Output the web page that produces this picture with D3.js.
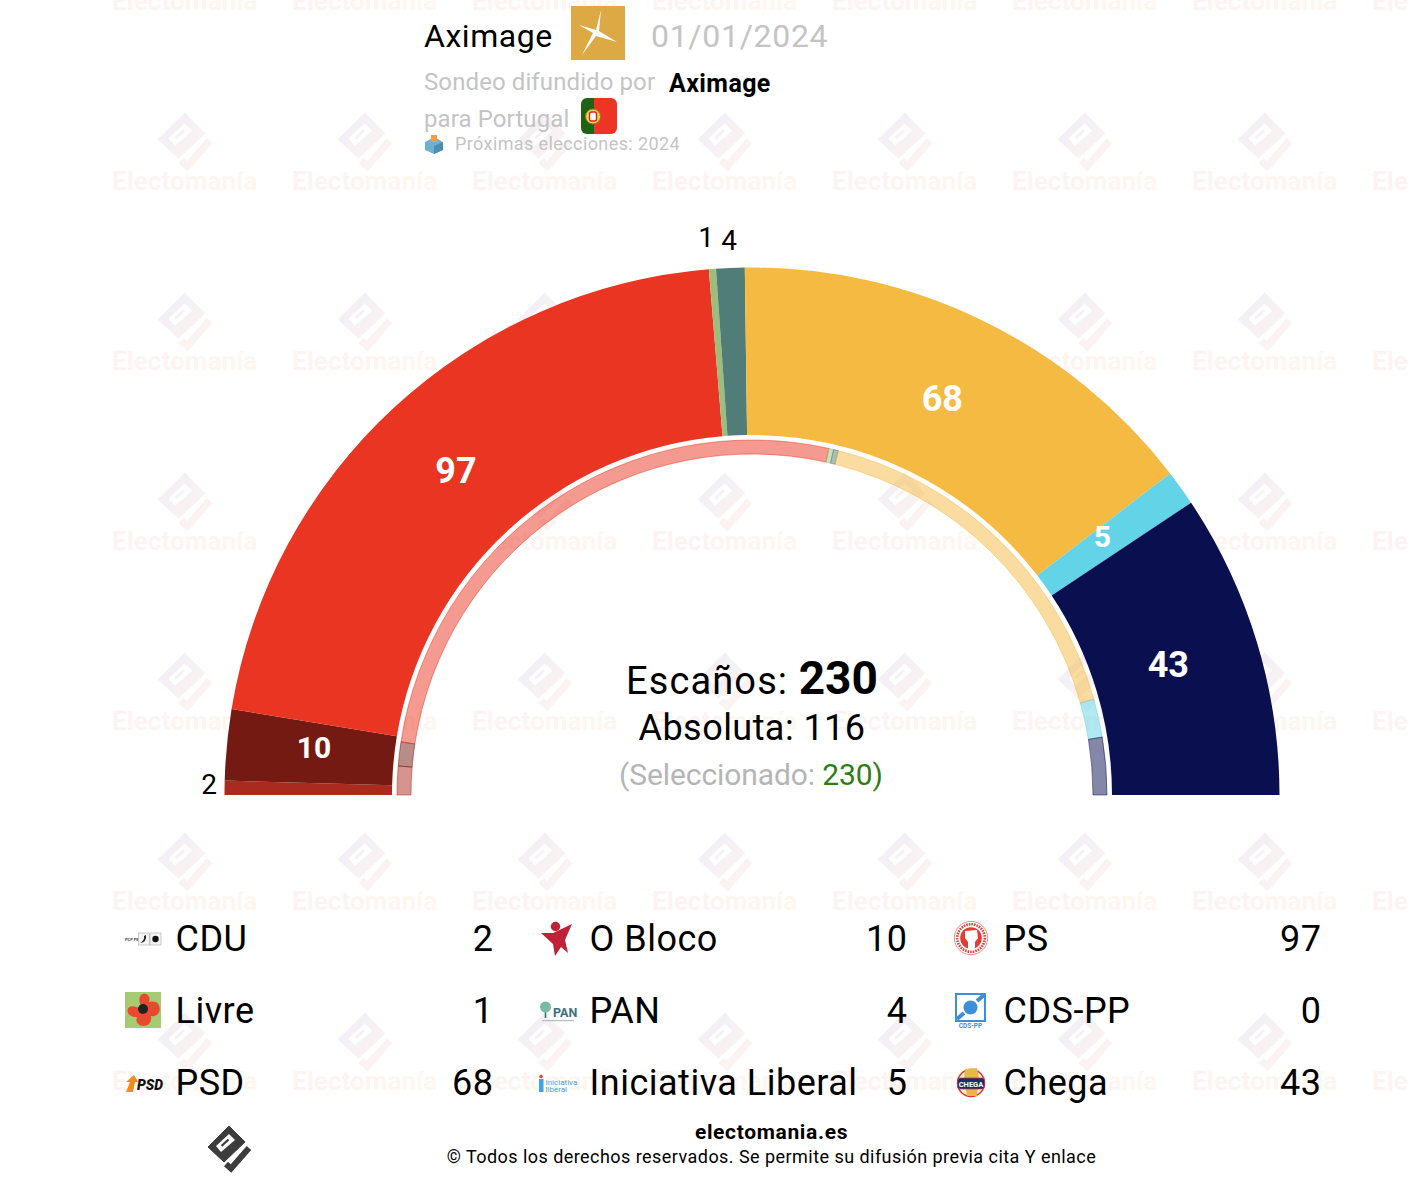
<!DOCTYPE html>
<html><head><meta charset="utf-8">
<script src="https://cdn.jsdelivr.net/npm/d3@7"></script>
<style>
html,body{margin:0;padding:0;background:#fff}
svg{display:block}
text{font-family:Roboto,sans-serif}
</style></head><body>
<svg id="chart" width="1428" height="1188"></svg>
<script>
const parties = ["CDU","O Bloco","PS","Livre","PAN","CDS-PP","PSD","Iniciativa Liberal","Chega"];
const seats = [2,10,97,1,4,0,68,5,43];
const previousSeats = [6,5,120,1,1,0,77,8,12];
const colors = ["#ab2a1e","#751a12","#ea3522","#9dbd7a","#507d78","#3f8fd8","#f5ba41","#63d4e8","#0a104f"];
const legendOrder = ["CDU","O Bloco","PS","Livre","PAN","CDS-PP","PSD","Iniciativa Liberal","Chega"];
const outsideLabels = ["CDU","Livre","PAN"];

const svg = d3.select("#chart");
const cx = 752, cy = 795;
const defs = svg.append("defs");
const g1 = defs.append("linearGradient").attr("id","wmIcon").attr("gradientUnits","userSpaceOnUse").attr("x1",-20).attr("y1",-20).attr("x2",20).attr("y2",20);
g1.append("stop").attr("offset","0").attr("stop-color","#f1eef8");
g1.append("stop").attr("offset","1").attr("stop-color","#fef5ef");
const g2 = defs.append("linearGradient").attr("id","wmText").attr("x1","0").attr("y1","0").attr("x2","1").attr("y2","0");
g2.append("stop").attr("offset","0").attr("stop-color","#fdf3f3");
g2.append("stop").attr("offset","1").attr("stop-color","#fef7ef");
defs.append("clipPath").attr("id","wmClip").append("rect").attr("width",1408).attr("height",1188);

function brand(sel, bg, fill){
  sel.append("path").attr("d","M-1,-23 L15,-7 L-6,13 L-22,-2Z").attr("fill",fill).attr("stroke",fill).attr("stroke-width",1).attr("stroke-linejoin","round");
  sel.append("path").attr("d","M-1,-15 L5,-9 L-9,3 L-14,-3Z").attr("fill",bg);
  sel.append("path").attr("d","M-1.5,-9.5 L-8.5,-3").attr("stroke",fill).attr("stroke-width",2.2).attr("fill","none");
  sel.append("path").attr("d","M-4,15 L1,19.5 L19,-1").attr("stroke",fill).attr("stroke-width",6).attr("fill","none");
}

// watermark
const wm = svg.append("g").attr("clip-path","url(#wmClip)");
d3.range(0,8).forEach(c=>d3.range(0,7).forEach(r=>{
  wm.append("text").attr("x",112+180*c).attr("y",10+180*r).attr("font-size",26.2).attr("font-weight",700)
    .attr("fill","url(#wmText)").text("Electomanía");
  if(r<6){ const t = wm.append("g").attr("transform",`translate(${186+180*c},${142+180*r}) scale(1.24)`); brand(t,"#fff","url(#wmIcon)"); }
}));

// gauge
const total = d3.sum(seats);
const angle = d3.scaleLinear().domain([0,total]).range([-Math.PI/2,Math.PI/2]);
function stack(vals){ let s=0; return vals.map((v,i)=>{const o={i,v,a0:s,a1:s+v}; s+=v; return o;}); }
const arcOuter = d3.arc().innerRadius(360).outerRadius(527.5).startAngle(d=>angle(d.a0)).endAngle(d=>angle(d.a1));
const arcInner = d3.arc().innerRadius(341).outerRadius(355).startAngle(d=>angle(d.a0)).endAngle(d=>angle(d.a1));
const gauge = svg.append("g").attr("transform",`translate(${cx},${cy})`);
const main = stack(seats);
gauge.selectAll("path.o").data(main.filter(d=>d.v>0)).join("path").attr("class","o")
  .attr("d",arcOuter).attr("fill",d=>colors[d.i]);
gauge.selectAll("path.r").data(stack(previousSeats).filter(d=>d.v>0)).join("path").attr("class","r")
  .attr("d",arcInner).attr("fill",d=>colors[d.i]).attr("fill-opacity",.5).attr("stroke",d=>colors[d.i]).attr("stroke-opacity",.5).attr("stroke-width",1);
gauge.selectAll("text.v").data(main.filter(d=>d.v>0)).join("text").attr("class","v")
  .each(function(d){
    const a = angle((d.a0+d.a1)/2), name = parties[d.i], out = outsideLabels.includes(name);
    const R = out ? 543 : 437;
    let x = R*Math.sin(a), y = -R*Math.cos(a) - 3;
    if(name==="PAN"){ x=-23; y=-555; }
    if(name==="Livre"){ x=-46; y=-558; }
    if(name==="Iniciativa Liberal"){ x-=5; y-=1; }
    if(name==="O Bloco"){ x-=3; y-=3; }
    if(name==="Chega"){ x-=2; y-=1; }
    d3.select(this).attr("x",x).attr("y",y).attr("text-anchor","middle").attr("dominant-baseline","central")
      .attr("font-size", out?28:(d.v<=10?30:36)).attr("font-weight",out?400:700)
      .attr("fill",out?"#000":"#fff").text(d.v);
  });

// centre
const t1 = svg.append("text").attr("x",752).attr("y",694).attr("text-anchor","middle").attr("font-size",38).attr("fill","#000");
t1.append("tspan").attr("letter-spacing",1.1).text("Escaños: ");
t1.append("tspan").attr("font-weight",700).attr("font-size",46).text(total);
svg.append("text").attr("x",752).attr("y",740).attr("text-anchor","middle").attr("font-size",36).attr("letter-spacing",.45).text("Absoluta: 116");
const t3 = svg.append("text").attr("x",751).attr("y",785).attr("text-anchor","middle").attr("font-size",30).attr("letter-spacing",-.1).attr("fill","#b5b5b5");
t3.append("tspan").text("(Seleccionado: ");
t3.append("tspan").attr("fill","#2e7d14").text(total);
t3.append("tspan").attr("fill","#2e7d14").text(")");

// header
const hdr = svg.append("g");
hdr.append("text").attr("x",424).attr("y",47).attr("font-size",32).attr("letter-spacing",.55).text("Aximage");
hdr.append("rect").attr("x",571).attr("y",6).attr("width",54).attr("height",54).attr("fill","#dca945");
hdr.append("path").attr("d","M601,10 L599,31 L617,42 L596,36 L582,55 L593,33 L579,25 L596,30Z").attr("fill","#fff");
hdr.append("text").attr("x",651).attr("y",47).attr("font-size",32).attr("letter-spacing",.7).attr("fill","#c4c4c4").text("01/01/2024");
hdr.append("text").attr("x",424).attr("y",90).attr("font-size",24).attr("letter-spacing",.1).attr("fill","#c4c4c4").text("Sondeo difundido por");
hdr.append("text").attr("x",669).attr("y",92).attr("font-size",25).attr("letter-spacing",.4).attr("font-weight",700).text("Aximage");
hdr.append("text").attr("x",424).attr("y",127).attr("font-size",24).attr("letter-spacing",.1).attr("fill","#c4c4c4").text("para Portugal");
hdr.append("clipPath").attr("id","fl").append("rect").attr("x",581).attr("y",98).attr("width",36).attr("height",36).attr("rx",6);
const fl = hdr.append("g").attr("clip-path","url(#fl)");
fl.append("rect").attr("x",581).attr("y",98).attr("width",13).attr("height",36).attr("fill","#1f6117");
fl.append("rect").attr("x",594).attr("y",98).attr("width",23).attr("height",36).attr("fill","#ee3524");
hdr.append("circle").attr("cx",593).attr("cy",116.5).attr("r",7.5).attr("fill","#f3d64a").attr("stroke","#8a7a20").attr("stroke-width",1);
hdr.append("rect").attr("x",589.5).attr("y",112).attr("width",7).attr("height",9).attr("rx",2).attr("fill","#fff").attr("stroke","#d22").attr("stroke-width",1.4);
hdr.append("path").attr("d","M434,137 L443,142 L443,150 L434,154 L425,150 L425,142Z").attr("fill","#6fb0d0");
hdr.append("path").attr("d","M434,146 L443,142 L443,150 L434,154Z").attr("fill","#4a8fb3");
hdr.append("rect").attr("x",431).attr("y",135).attr("width",6).attr("height",7).attr("fill","#e8a34a");
hdr.append("text").attr("x",455).attr("y",150).attr("font-size",18).attr("letter-spacing",.4).attr("fill","#c4c4c4").text("Próximas elecciones: 2024");

// legend
const colX = [125,539,953], rowY = [938,1010,1082];
const logos = {
 "CDU":g=>{ g.append("text").attr("x",0).attr("y",20.5).attr("font-size",4).attr("font-weight",700).attr("fill","#444").text("PCP PEV");
   [13.5,25].forEach(x=>g.append("rect").attr("x",x).attr("y",13).attr("width",11).attr("height",12).attr("fill","#f4f4f4").attr("stroke","#aaa").attr("stroke-width",.6));
   g.append("path").attr("d","M15,23 Q22,22 21,15 L19,16 Q20,20 15,23").attr("fill","#222");
   g.append("circle").attr("cx",30.5).attr("cy",19).attr("r",3.2).attr("fill","#111"); },
 "O Bloco":g=>{ g.append("circle").attr("cx",16.5).attr("cy",6.5).attr("r",4.7).attr("fill","#bf2136");
   g.append("path").attr("d","M2,13 L14,13 L33,4 L26,20 L29,33 L22,27 L16,36 L14,24Z").attr("fill","#bf2136"); },
 "PS":g=>{ g.append("circle").attr("cx",18).attr("cy",18).attr("r",16.7).attr("fill","#fff").attr("stroke","#ee8a84").attr("stroke-width",1);
   g.append("circle").attr("cx",18).attr("cy",18).attr("r",13.8).attr("fill","none").attr("stroke","#d9443c").attr("stroke-width",2.6).attr("stroke-dasharray","1.6 1");
   g.append("circle").attr("cx",18).attr("cy",18).attr("r",10.8).attr("fill","#e53a35");
   g.append("path").attr("d","M12,11 L24,10 L25,18 L22,22 L22,29 L15,29 L15,22 L12,18Z").attr("fill","#fff"); },
 "Livre":g=>{ g.append("rect").attr("width",36).attr("height",36).attr("fill","#a6cb72");
   g.append("path").attr("d","M18,18 C6,-2 28,-2 24,10 C38,6 38,26 26,24 C28,38 8,36 12,25 C-2,26 -1,6 18,18Z").attr("fill","#e8492f");
   g.append("circle").attr("cx",18).attr("cy",17).attr("r",5).attr("fill","#222"); },
 "PAN":g=>{ g.append("path").attr("d","M6.5,26 L6.5,14").attr("stroke","#2f7a70").attr("stroke-width",1.6);
   g.append("circle").attr("cx",6.5).attr("cy",15).attr("r",5.5).attr("fill","#7ab8a8");
   g.append("text").attr("x",14).attr("y",25).attr("font-size",12.5).attr("font-weight",700).attr("fill","#3d6f80").text("PAN");
   g.append("rect").attr("x",3).attr("y",28).attr("width",32).attr("height",1.2).attr("fill","#bbb"); },
 "CDS-PP":g=>{ g.append("rect").attr("x",2).attr("y",1).attr("width",31).attr("height",29).attr("fill","#3f8fd8");
   g.append("rect").attr("x",4).attr("y",3).attr("width",27).attr("height",25).attr("fill","#fff");
   g.append("path").attr("d","M24,9 L31,3 M4,27 L11,21").attr("stroke","#3f8fd8").attr("stroke-width",4);
   g.append("circle").attr("cx",17.5).attr("cy",15.5).attr("r",7).attr("fill","#3f8fd8");
   g.append("text").attr("x",17.5).attr("y",36).attr("text-anchor","middle").attr("font-size",6.5).attr("font-weight",700).attr("fill","#3f8fd8").text("CDS-PP"); },
 "PSD":g=>{ g.append("path").attr("d","M1,28 L5,18 L1,18 L9,11 L13,18 L10,18 L8,28Z").attr("fill","#f08a1d");
   g.append("text").attr("x",12).attr("y",26).attr("font-size",14).attr("font-weight",900).attr("font-style","italic").attr("fill","#111").text("PSD"); },
 "Iniciativa Liberal":g=>{ g.append("rect").attr("x",0).attr("y",15).attr("width",4.5).attr("height",13).attr("fill","#3fa3ea");
   g.append("circle").attr("cx",2).attr("cy",12.5).attr("r",1.8).attr("fill","#e8432f");
   g.append("text").attr("x",6.5).attr("y",21).attr("font-size",8).attr("fill","#3fa3ea").text("Iniciativa");
   g.append("text").attr("x",6.5).attr("y",28).attr("font-size",8).attr("fill","#3fa3ea").text("liberal"); },
 "Chega":g=>{ g.append("circle").attr("cx",18).attr("cy",19).attr("r",13.5).attr("fill","#f4f0e4").attr("stroke","#d33").attr("stroke-width",1.5);
   g.append("path").attr("d","M12,5 L24,4 L26,14 L24,32 L14,32 L11,14Z").attr("fill","#e8b94a");
   g.append("rect").attr("x",4.5).attr("y",14).attr("width",27).attr("height",11).attr("rx",3).attr("fill","#1a2f63").attr("stroke","#c33").attr("stroke-width",.8);
   g.append("text").attr("x",18).attr("y",22.5).attr("text-anchor","middle").attr("font-size",7.5).attr("font-weight",700).attr("fill","#fff").text("CHEGA"); }
};
legendOrder.forEach((name,i)=>{
  const c = i%3, r = Math.floor(i/3), x = colX[c], y = rowY[r];
  logos[name](svg.append("g").attr("transform",`translate(${x},${y-18})`));
  svg.append("text").attr("x",x+50.5).attr("y",y+13).attr("font-size",36).attr("letter-spacing",.5).text(name);
  svg.append("text").attr("x",x+368.5).attr("y",y+13).attr("text-anchor","end").attr("font-size",36).attr("letter-spacing",.5).text(seats[parties.indexOf(name)]);
});

// footer
brand(svg.append("g").attr("transform","translate(230,1149)"),"#fff","#3c3c3c");
svg.append("text").attr("x",771.5).attr("y",1139).attr("text-anchor","middle").attr("font-size",21).attr("letter-spacing",.65).attr("font-weight",700).text("electomania.es");
svg.append("text").attr("x",771.5).attr("y",1163).attr("text-anchor","middle").attr("font-size",18).attr("letter-spacing",".45").text("© Todos los derechos reservados. Se permite su difusión previa cita Y enlace");
</script></body></html>
